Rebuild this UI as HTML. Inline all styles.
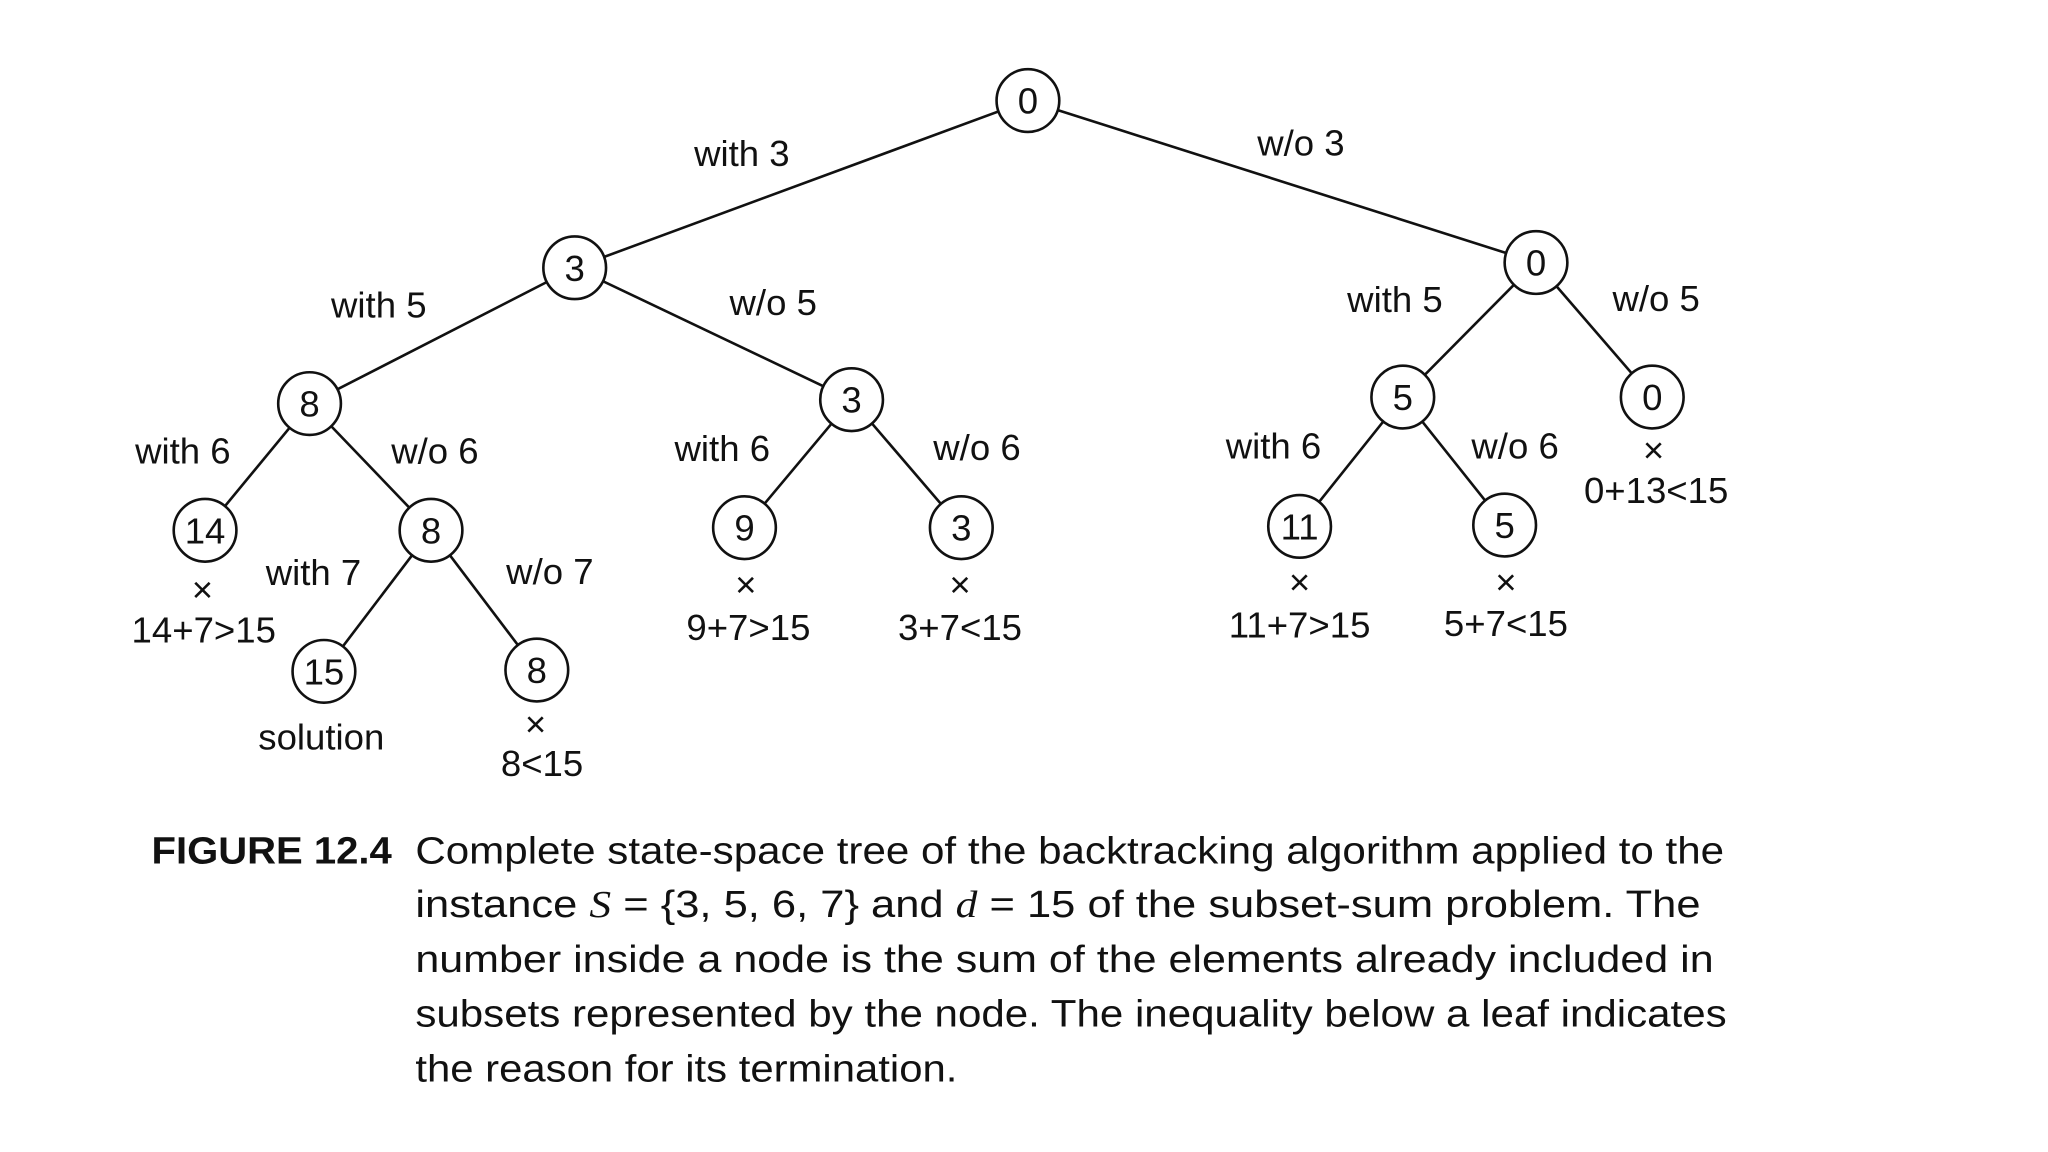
<!DOCTYPE html>
<html><head><meta charset="utf-8"><style>html,body{margin:0;padding:0;background:#fff}svg{display:block}</style></head>
<body>
<svg width="2048" height="1152" viewBox="0 0 1568 882" xmlns="http://www.w3.org/2000/svg" font-family="Liberation Sans, sans-serif" fill="#111">
<g stroke="#111" stroke-width="2">
<line x1="787" y1="77" x2="440" y2="205"/><line x1="787" y1="77" x2="1176" y2="201"/>
<line x1="440" y1="205" x2="237" y2="309"/><line x1="440" y1="205" x2="652" y2="306"/>
<line x1="1176" y1="201" x2="1074" y2="304"/><line x1="1176" y1="201" x2="1265" y2="304"/>
<line x1="237" y1="309" x2="157" y2="406"/><line x1="237" y1="309" x2="330" y2="406"/>
<line x1="652" y1="306" x2="570" y2="404"/><line x1="652" y1="306" x2="736" y2="404"/>
<line x1="1074" y1="304" x2="995" y2="403"/><line x1="1074" y1="304" x2="1152" y2="402"/>
<line x1="330" y1="406" x2="248" y2="514"/><line x1="330" y1="406" x2="411" y2="513"/>
</g>
<g stroke="#111" stroke-width="2" fill="#fff">
<circle cx="787" cy="77" r="24"/><circle cx="440" cy="205" r="24"/><circle cx="1176" cy="201" r="24"/>
<circle cx="237" cy="309" r="24"/><circle cx="652" cy="306" r="24"/><circle cx="1074" cy="304" r="24"/><circle cx="1265" cy="304" r="24"/>
<circle cx="157" cy="406" r="24"/><circle cx="330" cy="406" r="24"/><circle cx="570" cy="404" r="24"/><circle cx="736" cy="404" r="24"/>
<circle cx="995" cy="403" r="24"/><circle cx="1152" cy="402" r="24"/><circle cx="248" cy="514" r="24"/><circle cx="411" cy="513" r="24"/>
</g>
<g font-size="28" text-anchor="middle">
<text x="787" y="87">0</text><text x="440" y="215">3</text><text x="1176" y="211">0</text>
<text x="237" y="319">8</text><text x="652" y="316">3</text><text x="1074" y="314">5</text><text x="1265" y="314">0</text>
<text x="157" y="416">14</text><text x="330" y="416">8</text><text x="570" y="414">9</text><text x="736" y="414">3</text>
<text x="995" y="413">11</text><text x="1152" y="412">5</text><text x="248" y="524">15</text><text x="411" y="523">8</text>
</g>
<g font-size="28" text-anchor="middle">
<text x="568" y="127">with 3</text><text x="996" y="119">w/o 3</text>
<text x="290" y="243">with 5</text><text x="592" y="241">w/o 5</text>
<text x="1068" y="239">with 5</text><text x="1268" y="238">w/o 5</text>
<text x="140" y="355">with 6</text><text x="333" y="355">w/o 6</text>
<text x="553" y="353">with 6</text><text x="748" y="352">w/o 6</text>
<text x="975" y="351">with 6</text><text x="1160" y="351">w/o 6</text>
<text x="240" y="448">with 7</text><text x="421" y="447">w/o 7</text>
<text x="155" y="461">×</text><text x="156" y="492">14+7&gt;15</text>
<text x="571" y="457">×</text><text x="573" y="490">9+7&gt;15</text>
<text x="735" y="457">×</text><text x="735" y="490">3+7&lt;15</text>
<text x="995" y="455">×</text><text x="995" y="488">11+7&gt;15</text>
<text x="1153" y="455">×</text><text x="1153" y="487">5+7&lt;15</text>
<text x="1266" y="354">×</text><text x="1268" y="385">0+13&lt;15</text>
<text x="246" y="574">solution</text>
<text x="410" y="564">×</text><text x="415" y="594">8&lt;15</text>
</g>
<g font-size="29">
<text x="116" y="661" font-weight="bold" textLength="184" lengthAdjust="spacingAndGlyphs">FIGURE 12.4</text>
<text x="318" y="661" textLength="1002" lengthAdjust="spacingAndGlyphs">Complete state-space tree of the backtracking algorithm applied to the</text>
<text x="318" y="702" textLength="984" lengthAdjust="spacingAndGlyphs">instance <tspan font-family="Liberation Serif, serif" font-style="italic">S</tspan> = {3, 5, 6, 7} and <tspan font-family="Liberation Serif, serif" font-style="italic">d</tspan> = 15 of the subset-sum problem. The</text>
<text x="318" y="744" textLength="994" lengthAdjust="spacingAndGlyphs">number inside a node is the sum of the elements already included in</text>
<text x="318" y="786" textLength="1004" lengthAdjust="spacingAndGlyphs">subsets represented by the node. The inequality below a leaf indicates</text>
<text x="318" y="828" textLength="415" lengthAdjust="spacingAndGlyphs">the reason for its termination.</text>
</g>
</svg>
</body></html>
